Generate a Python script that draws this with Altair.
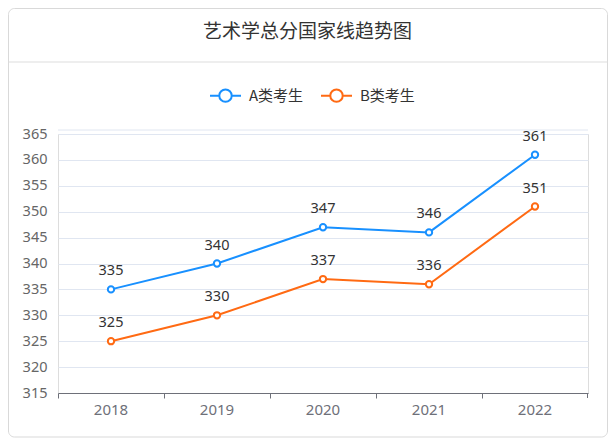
import altair as alt
import pandas as pd

years = ["2018", "2019", "2020", "2021", "2022"]
series_a = [335, 340, 347, 346, 361]
series_b = [325, 330, 337, 336, 351]
series_names = ["A类考生", "B类考生"]
colors = ["#1890ff", "#ff6a13"]
y_ticks = [315, 320, 325, 330, 335, 340, 345, 350, 355, 360, 365]
title_text = "艺术学总分国家线趋势图"

rows = []
for name, vals in zip(series_names, [series_a, series_b]):
    for yr, v in zip(years, vals):
        rows.append({"year": yr, "score": v, "series": name})
df = pd.DataFrame(rows)

CJK = "Noto Sans CJK SC"
NUM = "Noto Sans"
W, H = 530, 259

xenc = alt.X("year:N", sort=years, bandPosition=0.5,
             scale=alt.Scale(type="band", paddingInner=0, paddingOuter=0),
             axis=alt.Axis(title=None, bandPosition=0, labelAngle=0,
                           tickSize=5, labelPadding=4, domainColor="#6e7079",
                           tickColor="#6e7079", labelColor="#6e7079", labelFontSize=15,
                           labelFont=NUM, grid=False))
yenc = alt.Y("score:Q", scale=alt.Scale(domain=[315, 365], nice=False, zero=False),
             axis=alt.Axis(title=None, values=y_ticks, domain=False, ticks=False,
                           labelPadding=11, labelColor="#666666", labelFontSize=14.5,
                           labelFont=NUM, gridColor="#e0e6f1", gridWidth=1))

base = alt.Chart(df)

symbol_path = ("M-1,0L-0.4,0M0.4,0L1,0M-0.4,0A0.4,0.4 0 1,0 0.4,0"
               "A0.4,0.4 0 1,0 -0.4,0Z")

line = base.mark_line(strokeWidth=2).encode(
    x=xenc, y=yenc,
    color=alt.Color("series:N", scale=alt.Scale(domain=series_names, range=colors),
                    legend=alt.Legend(title=None, orient="none", direction="horizontal",
                                      legendX=151, legendY=-55, symbolType=symbol_path,
                                      symbolSize=961, symbolStrokeWidth=2,
                                      symbolFillColor="white", labelFontSize=15,
                                      labelColor="#333333", labelFont=CJK,
                                      labelOffset=7, columnPadding=13, padding=0)),
)
points = base.mark_point(shape="circle", size=40, filled=False, fill="white",
                         fillOpacity=1, strokeWidth=2, opacity=1).encode(
    x=xenc, y=yenc,
    stroke=alt.Stroke("series:N", scale=alt.Scale(domain=series_names, range=colors),
                      legend=None),
)
labels = base.mark_text(dy=-18, fontSize=14.5, color="#333333", font=NUM).encode(
    x=xenc, y=yenc, text="score:Q")

deco_df = pd.DataFrame({"t": [title_text]})
card = alt.Chart(deco_df).mark_rect(fill=None, stroke="#d9d9d9", strokeWidth=1,
                                    cornerRadius=6).encode(
    x=alt.value(-49.5), x2=alt.value(549.5), y=alt.value(-125.5), y2=alt.value(303))
sep = alt.Chart(deco_df).mark_rule(color="#dddddd", strokeWidth=1).encode(
    x=alt.value(-49.5), x2=alt.value(549.5), y=alt.value(-72))
top_line = alt.Chart(deco_df).mark_rule(color="#e0e6f1", strokeWidth=1).encode(
    x=alt.value(0), x2=alt.value(W), y=alt.value(-4))
last_tick = alt.Chart(deco_df).mark_rule(color="#6e7079", strokeWidth=1).encode(
    x=alt.value(W - 0.5), y=alt.value(H), y2=alt.value(H + 5))
title = alt.Chart(deco_df).mark_text(fontSize=19, color="#333333", font=CJK,
                                     baseline="middle", align="center").encode(
    x=alt.value(249.5), y=alt.value(-102), text="t:N")

chart = alt.layer(card, sep, title, top_line, line, points, labels, last_tick).properties(
    width=W, height=H,
    autosize=alt.AutoSizeParams(type="none"),
    padding={"left": 50, "top": 126, "right": 20, "bottom": 46},
).configure_view(stroke=None).configure(background="white")

chart.save("out.html", embed_options={"renderer": "svg", "actions": False})
